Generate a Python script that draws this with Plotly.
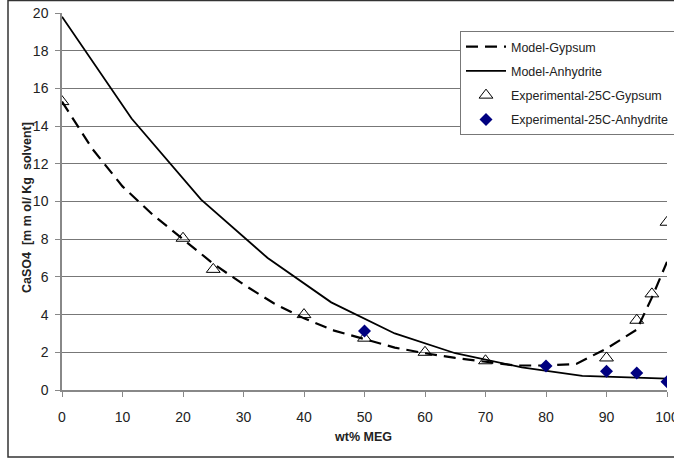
import plotly.graph_objects as go

# Model curves
anh_x = [0, 11.5, 23, 34, 44.5, 55, 65, 76, 86, 100]
anh_y = [19.8, 14.4, 10.1, 7.0, 4.65, 3.0, 1.95, 1.2, 0.75, 0.6]

gyp_x = [0, 5, 10, 15, 20, 25, 30, 35, 40, 45, 50, 55, 60, 65, 70, 75, 80, 85, 90, 95, 97.5, 100]
gyp_y = [15.3, 12.8, 10.8, 9.3, 8.0, 6.7, 5.6, 4.6, 3.8, 3.15, 2.7, 2.25, 1.95, 1.7, 1.5, 1.3, 1.3, 1.38, 2.2, 3.2, 4.9, 6.8]

# Experimental data
exp_gyp_x = [0, 20, 25, 40, 50, 60, 70, 90, 95, 97.5, 100]
exp_gyp_y = [15.3, 8.05, 6.4, 4.0, 2.75, 2.0, 1.55, 1.7, 3.7, 5.1, 8.9]

exp_anh_x = [50, 80, 90, 95, 100]
exp_anh_y = [3.13, 1.27, 1.0, 0.9, 0.44]

x_ticks = [0, 10, 20, 30, 40, 50, 60, 70, 80, 90, 100]
y_ticks = [0, 2, 4, 6, 8, 10, 12, 14, 16, 18, 20]

FONT = "Liberation Sans, Arial, sans-serif"

fig = go.Figure()
fig.add_trace(go.Scatter(x=gyp_x, y=gyp_y, mode="lines", name="Model-Gypsum", legendgroup="a",
                         line=dict(color="black", width=2.2, dash="12px,7px")))
fig.add_trace(go.Scatter(x=anh_x, y=anh_y, mode="lines", name="Model-Anhydrite", legendgroup="b",
                         line=dict(color="black", width=1.8)))
fig.add_trace(go.Scatter(x=exp_gyp_x, y=exp_gyp_y, mode="markers", name="Experimental-25C-Gypsum",
                         legendgroup="c",
                         marker=dict(symbol="triangle-up-open", size=12, color="black",
                                     line=dict(width=1, color="black"))))
fig.add_trace(go.Scatter(x=exp_anh_x, y=exp_anh_y, mode="markers", name="Experimental-25C-Anhydrite",
                         legendgroup="d",
                         marker=dict(symbol="diamond", size=10, color="#000080")))

W, H = 674, 461
L, R, T, B = 62, 7, 13, 71
pw, ph = W - L - R, H - T - B

def px(x):
    return (x - L) / pw

def py(y):
    return 1 - (y - T) / ph

fig.update_layout(
    width=W, height=H,
    margin=dict(l=L, r=R, t=T, b=B, autoexpand=False),
    paper_bgcolor="white", plot_bgcolor="white",
    font=dict(family=FONT, color="#222"),
    showlegend=True,
    legend=dict(x=px(460), y=py(31), xanchor="left", yanchor="top",
                bgcolor="white", bordercolor="#777", borderwidth=1,
                font=dict(size=12.5, family=FONT, color="#222"),
                tracegroupgap=5, itemwidth=40),
    xaxis=dict(range=[0, 100], tickvals=x_ticks, showgrid=False, zeroline=False,
               showline=True, linecolor="#888", linewidth=1.5, automargin=False,
               ticks="outside", ticklen=5, tickcolor="#888", ticklabelstandoff=8,
               ticklabeloverflow="allow",
               tickfont=dict(size=14, family=FONT, color="#222")),
    yaxis=dict(range=[0, 20], tickvals=y_ticks, showgrid=True, gridcolor="#777", gridwidth=1,
               zeroline=False, showline=True, linecolor="#888", linewidth=1.5, automargin=False,
               ticks="outside", ticklen=5, tickcolor="#888", ticklabelstandoff=4,
               ticklabeloverflow="allow",
               tickfont=dict(size=14, family=FONT, color="#222")),
    annotations=[
        dict(text="<b>CaSO4  [m m ol/ Kg  solvent]</b>", textangle=-90, xref="paper", yref="paper",
             x=px(27), y=py(208), xanchor="center", yanchor="middle", showarrow=False,
             font=dict(size=12.5, family=FONT, color="#222")),
        dict(text="<b>wt% MEG</b>", xref="paper", yref="paper", x=px(363), y=py(437),
             xanchor="center", yanchor="middle",
             showarrow=False, font=dict(size=12.5, family=FONT, color="#222")),
    ],
    shapes=[
        dict(type="rect", xref="paper", yref="paper", x0=px(8), x1=px(690), y0=py(457), y1=py(0.5),
             line=dict(color="#333", width=1.5), fillcolor="rgba(0,0,0,0)", layer="below"),
    ],
)

fig.write_html("out.html")
